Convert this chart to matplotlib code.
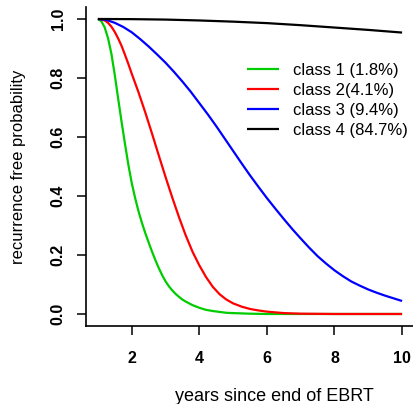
import matplotlib
matplotlib.use('Agg')
import matplotlib.pyplot as plt

plt.rcParams['font.family'] = ['Liberation Sans', 'DejaVu Sans']

# recurrence free probability per class, read on a grid of years
years_c1 = [1.0, 1.1, 1.2, 1.3, 1.4, 1.5, 1.6, 1.7, 1.8, 1.9, 2.0, 2.1, 2.2, 2.3, 2.4,
            2.5, 2.6, 2.7, 2.8, 2.9, 3.0, 3.1, 3.2, 3.3, 3.4, 3.5, 3.6, 3.8, 4.0, 4.2,
            4.4, 4.6, 4.8, 5.0, 5.5, 6.0, 7.0, 8.0, 9.0, 10.0]
prob_c1 = [1.000, 0.993, 0.972, 0.935, 0.882, 0.810, 0.730, 0.652, 0.578, 0.507, 0.445,
           0.394, 0.349, 0.310, 0.275, 0.243, 0.212, 0.183, 0.156, 0.132, 0.111, 0.094,
           0.080, 0.068, 0.058, 0.049, 0.042, 0.030, 0.021, 0.014, 0.010, 0.007, 0.004,
           0.003, 0.001, 0.000, 0.000, 0.000, 0.000, 0.000]

years_c2 = [1.0, 1.1, 1.2, 1.3, 1.4, 1.5, 1.6, 1.7, 1.8, 1.9, 2.0, 2.2, 2.4, 2.6, 2.8,
            3.0, 3.2, 3.4, 3.6, 3.8, 4.0, 4.2, 4.4, 4.6, 4.8, 5.0, 5.25, 5.5, 5.75, 6.0,
            6.5, 7.0, 8.0, 9.0, 10.0]
prob_c2 = [1.000, 0.999, 0.995, 0.987, 0.974, 0.956, 0.934, 0.909, 0.879, 0.848, 0.815,
           0.752, 0.684, 0.612, 0.538, 0.465, 0.395, 0.328, 0.266, 0.211, 0.165, 0.125,
           0.092, 0.067, 0.049, 0.036, 0.025, 0.017, 0.012, 0.008, 0.003, 0.001, 0.000,
           0.000, 0.000]

years_c3 = [1.0, 1.25, 1.5, 1.75, 2.0, 2.25, 2.5, 2.75, 3.0, 3.25, 3.5, 3.75, 4.0, 4.25,
            4.5, 4.75, 5.0, 5.25, 5.5, 5.75, 6.0, 6.25, 6.5, 6.75, 7.0, 7.25, 7.5, 7.75,
            8.0, 8.25, 8.5, 8.75, 9.0, 9.25, 9.5, 9.75, 10.0]
prob_c3 = [1.000, 0.997, 0.987, 0.973, 0.955, 0.932, 0.907, 0.880, 0.852, 0.821, 0.788,
           0.753, 0.715, 0.677, 0.637, 0.595, 0.553, 0.511, 0.470, 0.431, 0.393, 0.357,
           0.322, 0.288, 0.256, 0.225, 0.196, 0.171, 0.148, 0.128, 0.110, 0.096, 0.083,
           0.072, 0.062, 0.053, 0.044]

years_c4 = [1.0, 2.0, 3.0, 4.0, 5.0, 6.0, 7.0, 8.0, 9.0, 10.0]
prob_c4 = [1.000, 0.9995, 0.998, 0.995, 0.991, 0.986, 0.979, 0.971, 0.963, 0.954]

labels = ['class 1 (1.8%)', 'class 2(4.1%)', 'class 3 (9.4%)', 'class 4 (84.7%)']
colors = ['#00cd00', '#ff0000', '#0000ff', '#000000']

fig = plt.figure(figsize=(4.14, 4.04), dpi=100)
ax = fig.add_axes([0.2077, 0.1936, 0.7923, 0.7886])

series = [(years_c1, prob_c1), (years_c2, prob_c2), (years_c3, prob_c3), (years_c4, prob_c4)]
for (x, y), lab, col in zip(series, labels, colors):
    ax.plot(x, y, color=col, lw=1.6, label=lab, solid_capstyle='butt',
            solid_joinstyle='round')

ax.set_xlim(0.648, 10.352)
ax.set_ylim(-0.04, 1.04)
ax.set_xticks([2, 4, 6, 8, 10])
ax.set_yticks([0.0, 0.2, 0.4, 0.6, 0.8, 1.0])
ax.set_yticklabels(['0.0', '0.2', '0.4', '0.6', '0.8', '1.0'])

for side in ['top', 'right']:
    ax.spines[side].set_visible(False)
for side in ['left', 'bottom']:
    ax.spines[side].set_linewidth(1.2)

ax.tick_params(axis='both', direction='out', length=6.5, width=1.1,
               labelsize=11.5)
ax.tick_params(axis='x', pad=12)
ax.tick_params(axis='y', pad=8)
for t in ax.get_xticklabels() + ax.get_yticklabels():
    t.set_fontweight('bold')
for t in ax.get_yticklabels():
    t.set_rotation(90)
    t.set_va('center')

ax.set_xlabel('years since end of EBRT', fontsize=13)
ax.xaxis.set_label_coords(0.573, -0.223)
ax.xaxis.label.set_va('center')
ax.set_ylabel('recurrence free probability', fontsize=12)
ax.yaxis.set_label_coords(-0.207, 0.5)
ax.yaxis.label.set_va('center')

ax.legend(loc='upper left', bbox_to_anchor=(0.491, 0.826), frameon=False,
          fontsize=12, handlelength=1.92, handletextpad=0.84, labelspacing=0.3,
          borderpad=0, borderaxespad=0)

fig.savefig('out.png', dpi=100)
